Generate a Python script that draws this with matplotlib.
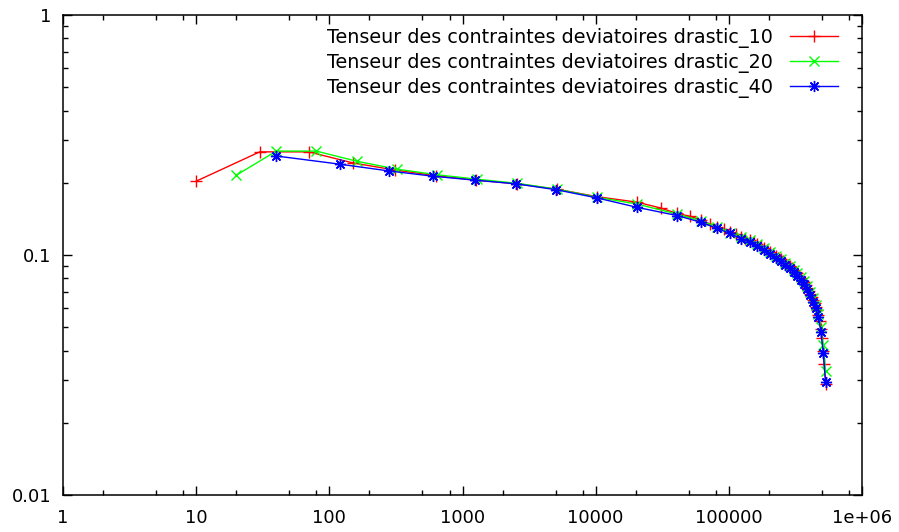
import matplotlib
matplotlib.use("Agg")
import matplotlib.pyplot as plt
from matplotlib.ticker import LogLocator, NullFormatter

# time values / deviatoric stress
x_10 = [10, 30, 70, 150, 310, 630, 1270, 2550, 5110, 10230, 20470,
        30710, 40950, 51190, 61430, 71670, 81910, 92150, 102390, 112630, 122870,
        133110, 143350, 153590, 163830, 174070, 184310, 194550, 204790, 215030,
        225270, 235510, 245750, 255990, 266230, 276470, 286710, 296950, 307190,
        317430, 327670, 337910, 348150, 358390, 368630, 378870, 389110, 399350,
        409590, 419830, 430070, 440310, 450550, 460790, 471030, 481270, 491510,
        501750, 511990, 522230, 532470]
y_10 = [0.203, 0.269, 0.269, 0.242, 0.226, 0.214, 0.205, 0.198, 0.188, 0.175, 0.166,
        0.157, 0.149, 0.145, 0.140, 0.135, 0.131, 0.128, 0.125, 0.122, 0.119,
        0.117, 0.115, 0.113, 0.111, 0.109, 0.107, 0.105, 0.103, 0.101,
        0.099, 0.097, 0.096, 0.094, 0.093, 0.091, 0.090, 0.088, 0.087,
        0.085, 0.084, 0.082, 0.080, 0.078, 0.077, 0.075, 0.073, 0.071,
        0.069, 0.067, 0.065, 0.063, 0.061, 0.059, 0.056, 0.053, 0.049,
        0.045, 0.040, 0.035, 0.029]

x_20 = [20, 40, 80, 160, 320, 640, 1280, 2560, 5120, 10240, 20480,
        40960, 61440, 81920, 102400, 122880, 143360, 163840, 184320, 204800,
        225280, 245760, 266240, 286720, 307200, 327680, 348160, 368640, 389120,
        409600, 430080, 450560, 471040, 491520, 512000, 532480]
y_20 = [0.215, 0.271, 0.271, 0.246, 0.228, 0.216, 0.207, 0.199, 0.188, 0.174, 0.163,
        0.148, 0.139, 0.131, 0.124, 0.119, 0.115, 0.111, 0.107, 0.103,
        0.099, 0.096, 0.093, 0.090, 0.087, 0.084, 0.081, 0.078, 0.074,
        0.070, 0.066, 0.062, 0.057, 0.050, 0.042, 0.033]

x_40 = [40, 120, 280, 600, 1240, 2520, 5080, 10200, 20440,
        40920, 61400, 81880, 102360, 122840, 143320, 163800, 184280, 204760,
        225240, 245720, 266200, 286680, 307160, 327640, 348120, 368600, 389080,
        409560, 430040, 450520, 471000, 491480, 511960, 532440]
y_40 = [0.2585, 0.239, 0.224, 0.213, 0.205, 0.198, 0.187, 0.173, 0.158,
        0.146, 0.137, 0.129, 0.123, 0.117, 0.113, 0.109, 0.105, 0.101,
        0.097, 0.094, 0.091, 0.088, 0.085, 0.082, 0.079, 0.076, 0.072,
        0.068, 0.064, 0.060, 0.055, 0.048, 0.039, 0.0296]

labels = ["Tenseur des contraintes deviatoires drastic_10",
          "Tenseur des contraintes deviatoires drastic_20",
          "Tenseur des contraintes deviatoires drastic_40"]

xticks = [1, 10, 100, 1000, 10000, 100000, 1000000]
xticklabels = ["1", "10", "100", "1000", "10000", "100000", "1e+06"]
yticks = [0.01, 0.1, 1]
yticklabels = ["0.01", "0.1", "1"]

fig = plt.figure(figsize=(8.99, 5.32), dpi=100)
ax = fig.add_axes([63 / 899, 1 - 495 / 532, 799 / 899, 480 / 532])

ax.plot(x_10, y_10, color="#ff0000", lw=1.0, marker="+", ms=8, mew=1.0, label=labels[0])
ax.plot(x_20, y_20, color="#00ff00", lw=1.0, marker="x", ms=7, mew=1.0, label=labels[1])
ax.plot(x_40, y_40, color="#0000ff", lw=1.0, marker=(8, 2, 0), ms=8, mew=1.0, label=labels[2])

ax.set_xscale("log")
ax.set_yscale("log")
ax.set_xlim(1, 1e6)
ax.set_ylim(0.01, 1)

ax.set_xticks(xticks)
ax.set_xticklabels(xticklabels)
ax.set_yticks(yticks)
ax.set_yticklabels(yticklabels)
# gnuplot only shows a few minor tics on the long x axis
ax.xaxis.set_minor_locator(LogLocator(base=10, subs=[2, 5, 8]))
ax.xaxis.set_minor_formatter(NullFormatter())
ax.yaxis.set_minor_formatter(NullFormatter())

ax.tick_params(which="both", direction="in", top=True, right=True, labelsize=13, width=1.0)
ax.tick_params(which="major", length=6.5)
ax.tick_params(which="minor", length=3.3)
ax.tick_params(axis="x", which="major", pad=10)
ax.tick_params(axis="y", which="major", pad=8.5)
for s in ax.spines.values():
    s.set_linewidth(1.1)

ax.legend(loc="upper right", bbox_to_anchor=(1 - 16 / 799, 1 - 5 / 480), frameon=False,
          markerfirst=False, fontsize=13.8, handlelength=2.5, labelspacing=0.27,
          borderaxespad=0, handletextpad=0.9)

fig.savefig("out.png", dpi=100)
